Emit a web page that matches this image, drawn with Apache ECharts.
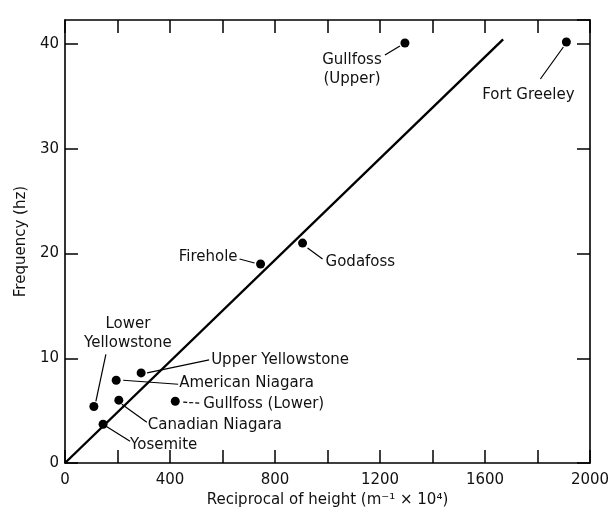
<!DOCTYPE html>
<html>
<head>
<meta charset="utf-8">
<script src="https://cdn.jsdelivr.net/npm/echarts@6/dist/echarts.min.js"></script>
<style>html,body{margin:0;padding:0;background:#fff;}#chart{width:610px;height:507px;}</style>
</head>
<body>
<div id="chart"></div>
<script>
// ---- data ----
const stations = ['Gullfoss\n(Upper)', 'Fort Greeley', 'Firehole', 'Godafoss', 'Lower\nYellowstone',
  'Upper Yellowstone', 'American Niagara', 'Gullfoss (Lower)', 'Canadian Niagara', 'Yosemite'];
const reciprocalHeight = [1295, 1910, 745, 905, 110, 290, 195, 420, 205, 145];
const frequency = [40.1, 40.2, 19.0, 21.0, 5.4, 8.6, 7.9, 5.9, 6.0, 3.7];
const fitX = [0, 1669];
const fitY = [0, 40.45];
const xTickLabels = [0, 400, 800, 1200, 1600, 2000];
const yTickLabels = [0, 10, 20, 30, 40];

// ---- annotation layout (pixel offsets from each point) ----
const labelLayout = [
  {leader: [-5, 3, -20, 12], text: [-53, 27], align: 'center'},
  {leader: [-3, 5, -26, 37], text: [-38, 53], align: 'center'},
  {leader: [-6, -1, -21, -5], text: [-23, -7], align: 'right'},
  {leader: [5, 5, 20, 16], text: [23, 19], align: 'left'},
  {leader: [2, -5, 12, -52], text: [34, -73], align: 'center'},
  {leader: [6, 0, 68, -13], text: [70, -13], align: 'left'},
  {leader: [7, 0, 62, 4], text: [63, 3], align: 'left'},
  {leader: [8, 1, 26, 2], text: [28, 3], align: 'left', dashed: true},
  {leader: [3, 4, 28, 22], text: [29, 25], align: 'left'},
  {leader: [3, 2, 27, 17], text: [27, 21], align: 'left'}
];

const FONT = '"DejaVu Sans", sans-serif';
const points = reciprocalHeight.map((x, i) => [x, frequency[i], i]);
const fitLine = fitX.map((x, i) => [x, fitY[i]]);

const chart = echarts.init(document.getElementById('chart'), null, {renderer: 'canvas'});

function axisLine() { return {show: true, onZero: false, lineStyle: {color: '#000', width: 1.6}}; }
function axisTick() { return {show: true, inside: true, length: 13, lineStyle: {color: '#000', width: 1.5}}; }

const baseX = {type: 'value', min: 0, max: 2000, interval: 200, splitLine: {show: false}};
const baseY = {type: 'value', min: 0, max: 42.3, interval: 10, splitLine: {show: false}};

chart.setOption({
  animation: false,
  backgroundColor: '#fff',
  grid: {left: 65, right: 20, top: 20, bottom: 44, outerBoundsMode: 'none', containLabel: false},
  xAxis: [
    Object.assign({}, baseX, {
      position: 'bottom', axisLine: axisLine(), axisTick: axisTick(),
      name: 'Reciprocal of height (m\u207B\u00B9 \u00D7 10\u2074)',
      nameLocation: 'middle', nameGap: 25,
      nameTextStyle: {fontFamily: FONT, fontSize: 15, color: '#111'},
      axisLabel: {
        show: true, interval: 0, margin: 10, fontFamily: FONT, fontSize: 15, color: '#111',
        formatter: v => (xTickLabels.indexOf(v) >= 0 ? String(v) : '')
      }
    }),
    Object.assign({}, baseX, {position: 'top', axisLine: axisLine(), axisTick: axisTick(), axisLabel: {show: false}})
  ],
  yAxis: [
    Object.assign({}, baseY, {
      position: 'left', axisLine: axisLine(), axisTick: axisTick(),
      name: 'Frequency (hz)',
      nameLocation: 'middle', nameGap: 35, nameRotate: 90,
      nameTextStyle: {fontFamily: FONT, fontSize: 15, color: '#111'},
      axisLabel: {
        show: true, margin: 6, fontFamily: FONT, fontSize: 15, color: '#111', showMaxLabel: false,
        formatter: v => (yTickLabels.indexOf(v) >= 0 ? String(v) : '')
      }
    }),
    Object.assign({}, baseY, {position: 'right', axisLine: axisLine(), axisTick: axisTick(), axisLabel: {show: false}})
  ],
  series: [
    {
      type: 'line', data: fitLine, showSymbol: false, symbol: 'none',
      lineStyle: {color: '#000', width: 2.4}, z: 2
    },
    {
      type: 'scatter', data: points, symbol: 'circle', symbolSize: 9,
      itemStyle: {color: '#000', opacity: 1}, z: 3
    },
    {
      type: 'custom', data: points, z: 4,
      renderItem: function (params, api) {
        const i = api.value(2);
        const p = api.coord([api.value(0), api.value(1)]);
        const L = labelLayout[i];
        return {
          type: 'group',
          children: [
            {
              type: 'line',
              shape: {x1: p[0] + L.leader[0], y1: p[1] + L.leader[1], x2: p[0] + L.leader[2], y2: p[1] + L.leader[3]},
              style: {stroke: '#000', lineWidth: 1.2, lineDash: L.dashed ? [4, 2] : null}
            },
            {
              type: 'text',
              style: {
                text: stations[i], x: p[0] + L.text[0], y: p[1] + L.text[1],
                align: L.align, verticalAlign: 'middle',
                font: '15px ' + FONT, fill: '#111', lineHeight: 19
              }
            }
          ]
        };
      }
    }
  ]
});
</script>
</body>
</html>
